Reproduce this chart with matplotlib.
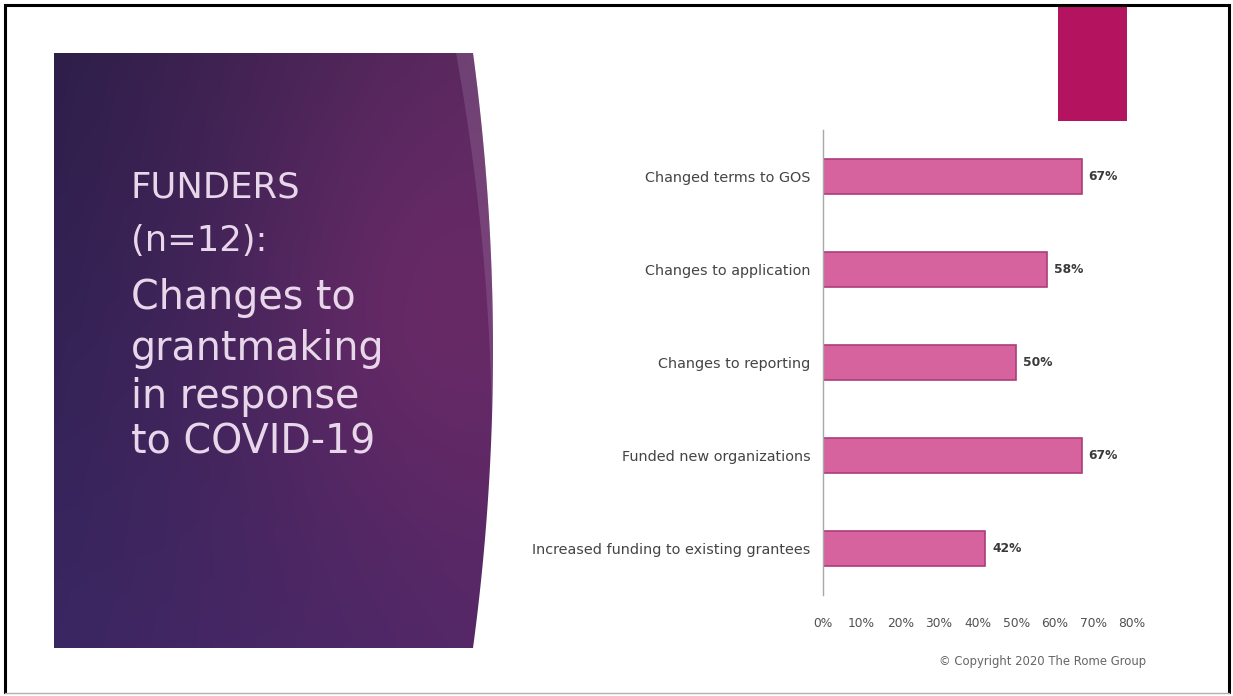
import numpy as np
import matplotlib.pyplot as plt
from matplotlib.patches import Rectangle, Polygon
from matplotlib.colors import to_rgb

# survey results
categories = ['Changed terms to GOS', 'Changes to application',
              'Changes to reporting', 'Funded new organizations',
              'Increased funding to existing grantees']
percents = [67, 58, 50, 67, 42]
xticks = [0, 10, 20, 30, 40, 50, 60, 70, 80]

title_top = ['FUNDERS', '(n=12):']
title_main = ['Changes to', 'grantmaking', 'in response', 'to COVID-19']
copyright_text = '\u00a9 Copyright 2020 The Rome Group'

W, H = 1233, 696
fig = plt.figure(figsize=(W / 100, H / 100), dpi=100)
fig.patch.set_facecolor('white')

# slide background layer in pixel coordinates
bg = fig.add_axes([0, 0, 1, 1])
bg.set_xlim(0, W)
bg.set_ylim(H, 0)
bg.axis('off')
bg.set_zorder(0)

# purple panel with a bulging right edge
x0, x1, y0, y1 = 54, 473, 53, 648
ys = np.linspace(y0, y1, 200)
tt = (ys - y0) / (y1 - y0)
cx = 513
xs = (1 - tt) ** 2 * x1 + 2 * (1 - tt) * tt * cx + tt ** 2 * x1
outline = np.vstack([[x0, y0], np.column_stack([xs, ys]), [x0, y1]])
panel = Polygon(outline, closed=True, facecolor='none', edgecolor='none')
bg.add_patch(panel)

gx = np.linspace(0, 1, 300)
gy = np.linspace(0, 1, 300)
GX, GY = np.meshgrid(gx, gy)
tl, tr = np.array(to_rgb('#2e1e4a')), np.array(to_rgb('#5a295c'))
bl, br = np.array(to_rgb('#3a2762')), np.array(to_rgb('#552768'))
grad = ((1 - GX)[..., None] * (1 - GY)[..., None] * tl
        + GX[..., None] * (1 - GY)[..., None] * tr
        + (1 - GX)[..., None] * GY[..., None] * bl
        + GX[..., None] * GY[..., None] * br)
glow = 0.85 * np.exp(-((GX - 0.9) ** 2 + (GY - 0.42) ** 2) / 0.14)[..., None]
grad = grad * (1 - glow) + np.array(to_rgb('#6a2a68')) * glow
img = bg.imshow(grad, extent=(x0, 495, y1, y0), aspect='auto',
                interpolation='bilinear', zorder=1)
img.set_clip_path(panel)

# lighter sheen along the top of the curved edge
sy = np.linspace(y0, 420, 120)
st = (sy - y0) / (y1 - y0)
sx_out = (1 - st) ** 2 * x1 + 2 * (1 - st) * st * cx + st ** 2 * x1
width = 17 * (1 - (sy - y0) / (420 - y0))
sheen = np.vstack([np.column_stack([sx_out, sy]),
                   np.column_stack([sx_out - width, sy])[::-1]])
bg.add_patch(Polygon(sheen, closed=True, facecolor='#b89cc0',
                     edgecolor='none', alpha=0.22, zorder=2))

# magenta accent block at the top
bg.add_patch(Rectangle((1058, 7), 69, 114, facecolor='#b3135f',
                       edgecolor='none', zorder=2))

# slide frame
bg.plot([5, 5], [5, 692], color='black', lw=2.2, zorder=5)
bg.plot([5, 1229], [5, 5], color='black', lw=2.2, zorder=5)
bg.plot([1229, 1229], [5, 692], color='black', lw=2.2, zorder=5)
bg.plot([5, 1229], [693, 693], color='#b0b0b0', lw=1, zorder=5)

# panel text
txt_color = '#e8d6ea'
for label, y in zip(title_top, [187, 241]):
    bg.text(131, y, label, fontsize=25.5, color=txt_color, va='center',
            ha='left', family='DejaVu Sans', zorder=3)
for label, y in zip(title_main, [298, 349, 397, 443]):
    bg.text(131, y, label, fontsize=28.5, color=txt_color, va='center',
            ha='left', family='DejaVu Sans', zorder=3)

bg.text(1146, 661, copyright_text, fontsize=8.4, color='#666666',
        ha='right', va='center', zorder=3)

# bar chart
ax = fig.add_axes([823 / W, 101 / H, (1132 - 823) / W, 465 / H])
ax.set_zorder(2)
ax.patch.set_alpha(0)
pos = np.arange(len(categories))
bars = ax.barh(pos, percents, height=0.37, color='#d6629e',
               edgecolor='#ad3c7a', linewidth=1.2)
ax.set_ylim(len(categories) - 0.5, -0.5)
ax.set_xlim(0, 80)
ax.set_xticks(xticks)
ax.set_xticklabels([f'{v}%' for v in xticks], fontsize=8.8, color='#505050')
ax.set_yticks(pos)
ax.set_yticklabels(categories, fontsize=10.4, color='#444444')
ax.tick_params(axis='x', length=0, pad=16)
ax.tick_params(axis='y', length=0, pad=9)
for side in ['top', 'right', 'bottom']:
    ax.spines[side].set_visible(False)
ax.spines['left'].set_color('#a8a8a8')
ax.spines['left'].set_linewidth(1)

for b, v in zip(bars, percents):
    ax.text(v + 1.8, b.get_y() + b.get_height() / 2, f'{v}%',
            va='center', ha='left', fontsize=8.8, color='#3a3a3a',
            fontweight='bold')

fig.savefig('out.png', dpi=100)
